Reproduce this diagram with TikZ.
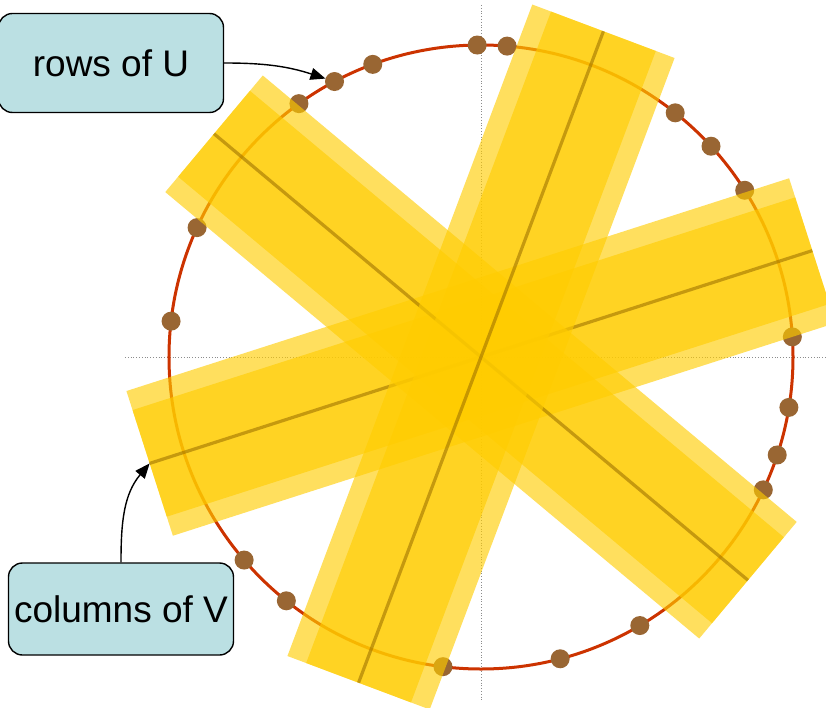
\documentclass[tikz,border=0pt]{standalone}
\usepackage{fontspec}
\setmainfont{Liberation Sans}
\usetikzlibrary{arrows.meta}

\begin{document}
\begin{tikzpicture}[
  x=1pt, y=1pt,
  % ---- styles ----
  axis/.style={draw=black!45, dotted, line width=0.8pt},
  ring/.style={draw=Cring, line width=3pt},
  sample/.style={%
    circle, fill=Cdot, minimum size=19pt, inner sep=0pt, outer sep=0pt,
  },
  band/.style={fill=Cband, fill opacity=0.63},
  spine/.style={draw=Cspine, line width=3.2pt, draw opacity=0.6},
  tag/.style={%
    draw=black, line width=1.4pt, fill=Ctag, rounded corners=14pt,
    minimum width=225pt, inner sep=0pt, align=center,
    font=\fontsize{37}{42}\selectfont,
  },
  pointer/.style={-{Triangle[length=15pt, width=12pt]}, line width=1.4pt},
]

% ---- colour palette ----
\definecolor{Cring}{RGB}{204,51,0}            % unit circle
\definecolor{Cdot}{RGB}{153,102,51}           % samples on the circle
\definecolor{Cband}{RGB}{255,204,0}           % bands
\definecolor{Cspine}{RGB}{160,115,0}          % band axes
\definecolor{Ctag}{RGB}{187,224,227}          % label boxes

\def\R{312}     % circle radius
\def\hl{348}    % half length of a band
\def\wo{76}     % half width, outer band
\def\wi{56}     % half width, inner band

\useasboundingbox (-481,-350) rectangle (345,357);

% =========================================================
% axes and circle
% =========================================================
\draw[axis] (-356,0) -- (345,0);
\draw[axis] (0,352) -- (0,-343);
\draw[ring] (0,0) circle (\R);

% =========================================================
% samples on the circle
% =========================================================
\node[sample] (p085) at (85.2:\R)  {};
\node[sample] (p091) at (90.7:\R)  {};
\node[sample] (p110) at (110.3:\R) {};
\node[sample] (p118) at (118.0:\R) {};
\node[sample] (p126) at (125.7:\R) {};
\node[sample] (p155) at (155.5:\R) {};
\node[sample] (p173) at (173.4:\R) {};
\node[sample] (p221) at (220.6:\R) {};
\node[sample] (p231) at (231.4:\R) {};
\node[sample] (p263) at (263.0:\R) {};
\node[sample] (p285) at (284.7:\R) {};
\node[sample] (p301) at (300.6:\R) {};
\node[sample] (p335) at (334.8:\R) {};
\node[sample] (p342) at (341.7:\R) {};
\node[sample] (p351) at (350.7:\R) {};
\node[sample] (p004) at (3.7:\R)   {};
\node[sample] (p032) at (32.3:\R)  {};
\node[sample] (p043) at (42.5:\R)  {};
\node[sample] (p052) at (51.5:\R)  {};

% =========================================================
% bands
% =========================================================
\begin{scope}[rotate=17.8]
  \fill[band] (-\hl,-\wo) rectangle (\hl,\wo);
  \fill[band] (-\hl,-\wi) rectangle (\hl,\wi);
  \draw[spine] (-\hl,0) -- (\hl,0);
  \coordinate (vEnd) at (-\hl,0);
\end{scope}

\begin{scope}[rotate=140.1]
  \fill[band] (-\hl,-\wo) rectangle (\hl,\wo);
  \fill[band] (-\hl,-\wi) rectangle (\hl,\wi);
  \draw[spine] (-\hl,0) -- (\hl,0);
\end{scope}

\begin{scope}[rotate=69.4]
  \fill[band] (-\hl,-\wo) rectangle (\hl,\wo);
  \fill[band] (-\hl,-\wi) rectangle (\hl,\wi);
  \draw[spine] (-\hl,0) -- (\hl,0);
\end{scope}

% =========================================================
% labels
% =========================================================
\node[tag, minimum height=99pt] (rowsU) at (-370,294) {rows of U};
\node[tag, minimum height=92pt] (colsV) at (-360,-252) {columns of V};

\draw[pointer] (rowsU.east) to[out=0, in=162] (p118);
\draw[pointer] (colsV.north) to[out=90, in=230] (vEnd);

\end{tikzpicture}
\end{document}
